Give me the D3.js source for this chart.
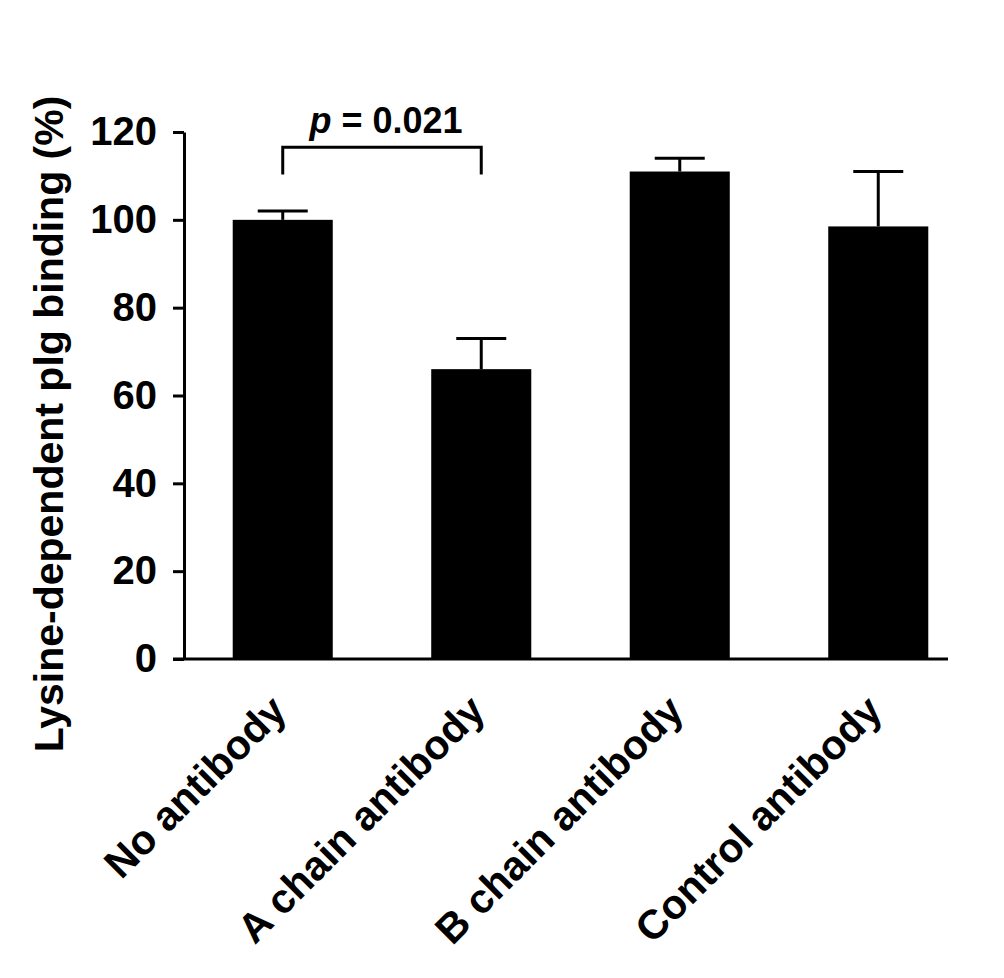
<!DOCTYPE html>
<html>
<head>
<meta charset="utf-8">
<script src="https://cdn.jsdelivr.net/npm/d3@7"></script>
<style>
  html, body { margin: 0; padding: 0; background: #fff; }
  svg { display: block; }
  text { font-family: "Liberation Sans", Arial, Helvetica, sans-serif; font-weight: bold; fill: #000; }
</style>
</head>
<body>
<svg id="chart" width="1004" height="978"></svg>
<script>
// ---- data ----
const categories = ["No antibody", "A chain antibody", "B chain antibody", "Control antibody"];
const means = [100, 66, 111, 98.5];
const errors = [2, 7, 3, 12.5];
const yTicks = [0, 20, 40, 60, 80, 100, 120];
const yLabel = "Lysine-dependent plg binding (%)";
const comparison = { from: "No antibody", to: "A chain antibody", label: "0.021" };

// ---- layout ----
const svg = d3.select("#chart");
const tickFont = 40;
const labelFont = 41;
const yLabelFont = 41;
const pFont = 36;
const lw = 3;

const y = d3.scaleLinear().domain([0, 120]).range([659, 132]);
const x = d3.scaleBand().domain(categories).range([195, 966]).paddingInner(0.496).paddingOuter(0.19);

const axisLeftX = 184;
const tickLen = 11;
const axisRightX = 948;

// bars
svg.append("g").selectAll("rect").data(categories).join("rect")
  .attr("x", d => x(d))
  .attr("width", x.bandwidth())
  .attr("y", (d, i) => y(means[i]))
  .attr("height", (d, i) => y(0) - y(means[i]))
  .attr("fill", "#000");

// error bars (upper only)
const eb = svg.append("g").attr("stroke", "#000").attr("stroke-width", lw);
categories.forEach((c, i) => {
  const cx = x(c) + x.bandwidth() / 2;
  eb.append("line").attr("x1", cx).attr("x2", cx).attr("y1", y(means[i])).attr("y2", y(means[i] + errors[i]));
  eb.append("line").attr("x1", cx - 25).attr("x2", cx + 25).attr("y1", y(means[i] + errors[i])).attr("y2", y(means[i] + errors[i]));
});

// y axis
const yAxis = d3.axisLeft(y).tickValues(yTicks).tickSize(tickLen).tickPadding(16).tickSizeOuter(0);
const gy = svg.append("g").attr("transform", `translate(${axisLeftX},0)`).call(yAxis);
gy.select(".domain").attr("stroke-width", lw).attr("stroke", "#000");
gy.selectAll(".tick line").attr("stroke-width", lw).attr("stroke", "#000");
gy.selectAll(".tick text").attr("font-size", tickFont).attr("font-family", null).style("font-weight", "bold").attr("fill", "#000");

// x axis line
svg.append("line")
  .attr("x1", axisLeftX - tickLen).attr("x2", axisRightX)
  .attr("y1", y(0)).attr("y2", y(0))
  .attr("stroke", "#000").attr("stroke-width", lw);

// x labels
svg.append("g").selectAll("text").data(categories).join("text")
  .attr("transform", d => `translate(${x(d) + x.bandwidth() / 2 + 6},713) rotate(-45)`)
  .attr("text-anchor", "end")
  .attr("font-size", labelFont)
  .text(d => d);

// y label
svg.append("text")
  .attr("transform", `translate(63,424) rotate(-90)`)
  .attr("text-anchor", "middle")
  .attr("font-size", yLabelFont)
  .text(yLabel);

// significance bracket
const bx1 = x(comparison.from) + x.bandwidth() / 2;
const bx2 = x(comparison.to) + x.bandwidth() / 2;
const by = y(116.5);
svg.append("path")
  .attr("d", `M${bx1},${y(110.3)}V${by}H${bx2}V${y(110.3)}`)
  .attr("fill", "none").attr("stroke", "#000").attr("stroke-width", lw);
const pt = svg.append("text")
  .attr("x", (bx1 + bx2) / 2 + 4).attr("y", 133)
  .attr("text-anchor", "middle")
  .attr("font-size", pFont);
pt.append("tspan").attr("font-style", "italic").text("p");
pt.append("tspan").text(" = " + comparison.label);
</script>
</body>
</html>
